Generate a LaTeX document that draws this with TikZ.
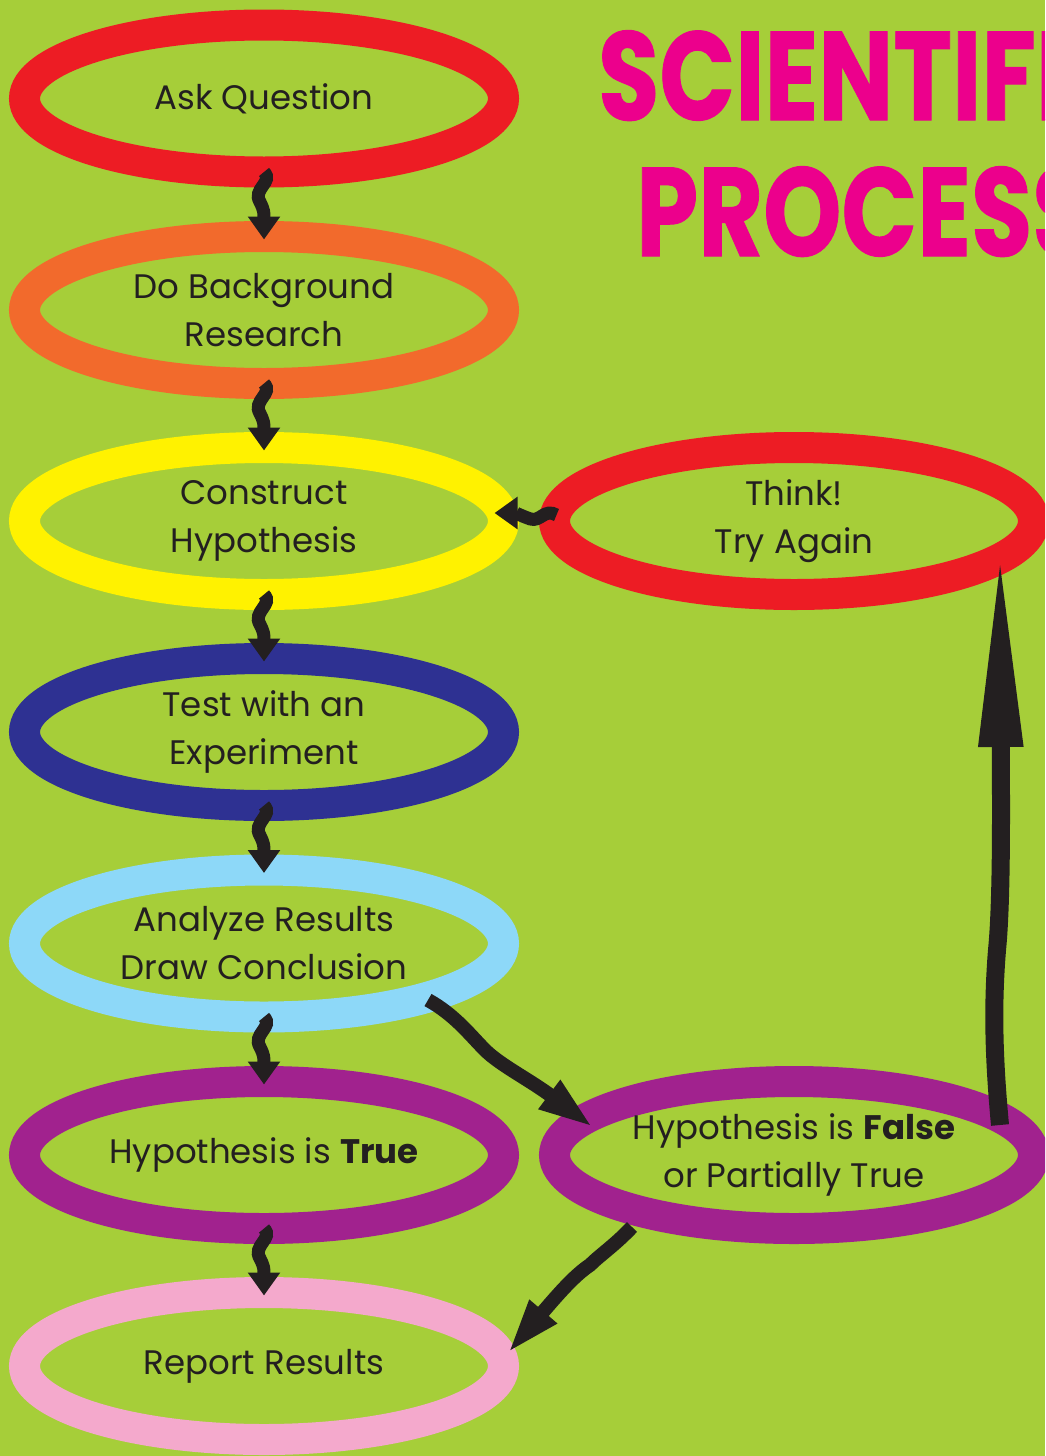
\documentclass[tikz,border=0pt]{standalone}
\usepackage{fontspec}
\setmainfont{Poppins}
\newfontfamily\titlefont{Poppins}[FakeBold=0.8]
\usetikzlibrary{shapes.geometric,arrows.meta,calc}
\definecolor{bgc}{HTML}{A6CE39}
\definecolor{ringred}{HTML}{ED1C24}
\definecolor{ringorange}{HTML}{F26A2C}
\definecolor{ringyellow}{HTML}{FFF200}
\definecolor{ringnavy}{HTML}{2E3192}
\definecolor{ringsky}{HTML}{8DD8F8}
\definecolor{ringpurple}{HTML}{A1228E}
\definecolor{ringpink}{HTML}{F4A9CC}
\definecolor{titlec}{HTML}{EC008C}
\definecolor{inkc}{HTML}{231F20}
\newcommand\wavyarrow[2]{%
  \draw[squig] (#1.south)
    .. controls ($(#1.south)+(10,10)$) and ($(#1.south)+(-12,17)$) .. ($(#1.south)+(-4,30)$)
    .. controls ($(#1.south)+(0,38)$) and ($(#2.north)+(0,-24)$) .. ($(#2.north)+(0,3)$);}
\begin{document}
\begin{tikzpicture}[x=1pt,y=-1pt,
  ring/.style={ellipse,draw=#1,line width=31pt,minimum width=479pt,minimum height=147pt,inner sep=0pt,outer sep=0pt},
  txt/.style={font=\fontsize{34}{48}\selectfont,text=inkc,align=center,inner sep=0pt},
  squig/.style={draw=inkc,line width=13pt,line cap=butt,-{Triangle[width=31pt,length=23pt]}},
  bigarrow/.style={draw=inkc,line width=14pt,line cap=butt,-{Triangle[width=32pt,length=56pt]}},
  tallarrow/.style={draw=inkc,line width=18pt,line cap=butt,-{Triangle[width=40pt,length=200pt]}},
  titletxt/.style={font=\titlefont\fontsize{126}{126}\selectfont\bfseries,text=titlec,anchor=base west,inner sep=0pt,xscale=0.79}
]
\useasboundingbox (0,0) rectangle (1045,1456);
\fill[bgc] (0,0) rectangle (1045,1456);
\clip (0,0) rectangle (1045,1456);

\node[ring=ringred,label={[txt]center:Ask Question}] (ask) at (264,98.5) {};
\node[ring=ringorange,label={[txt]center:Do Background\\Research}] (bg) at (264,310) {};
\node[ring=ringyellow,label={[txt]center:Construct\\Hypothesis}] (hyp) at (264,521) {};
\node[ring=ringnavy,label={[txt]center:Test with an\\Experiment}] (test) at (264,732) {};
\node[ring=ringsky,label={[txt]center:Analyze Results\\Draw Conclusion}] (ana) at (264,943.5) {};
\node[ring=ringpurple,label={[txt]center:Hypothesis is \textbf{True}}] (true) at (264,1155) {};
\node[ring=ringpink,label={[txt]center:Report Results}] (rep) at (264,1366) {};
\node[ring=ringred,label={[txt]center:Think!\\Try Again}] (think) at (794,521) {};
\node[ring=ringpurple,label={[txt]center:Hypothesis is \textbf{False}\\or Partially True}] (false) at (794,1155) {};

\node[titletxt] (t1) at (598,120) {SCIENTIFIC};
\node[titletxt] (t2) at (636,256) {PROCESS};

\wavyarrow{ask}{bg}
\wavyarrow{bg}{hyp}
\wavyarrow{hyp}{test}
\wavyarrow{test}{ana}
\wavyarrow{ana}{true}
\wavyarrow{true}{rep}

\draw[squig] ($(think.west)+(2,-6)$)
  .. controls ($(think.west)+(-10,-13)$) and ($(think.west)+(-14,1)$) .. ($(think.west)+(-24,-2)$)
  .. controls ($(think.west)+(-30,-4)$) and ($(hyp.east)+(12,-8)$) .. ($(hyp.east)+(-9,-8)$);

\draw[bigarrow] ($(ana.center)+(164,56.5)$)
  .. controls ($(ana.center)+(191,71.5)$) and ($(ana.center)+(206,91.5)$) .. ($(ana.center)+(221,106.5)$)
  .. controls ($(ana.center)+(236,121.5)$) and ($(false.center)+(-264,-75)$) .. ($(false.center)+(-200,-27)$);

\draw[bigarrow] ($(false.center)+(-162,72)$)
  .. controls ($(false.center)+(-179,90)$) and ($(false.center)+(-194,100)$) .. ($(false.center)+(-204,110)$)
  .. controls ($(false.center)+(-219,120)$) and ($(rep.center)+(296,-74)$) .. ($(rep.center)+(243,-12)$);

\draw[tallarrow] ($(false.center)+(206,-30)$)
  .. controls ($(false.center)+(199,-105)$) and ($(false.center)+(199,-155)$) .. ($(false.center)+(203,-205)$)
  .. controls ($(false.center)+(208,-255)$) and ($(think.center)+(207,279)$) .. ($(think.center)+(206,26)$);
\end{tikzpicture}
\end{document}
